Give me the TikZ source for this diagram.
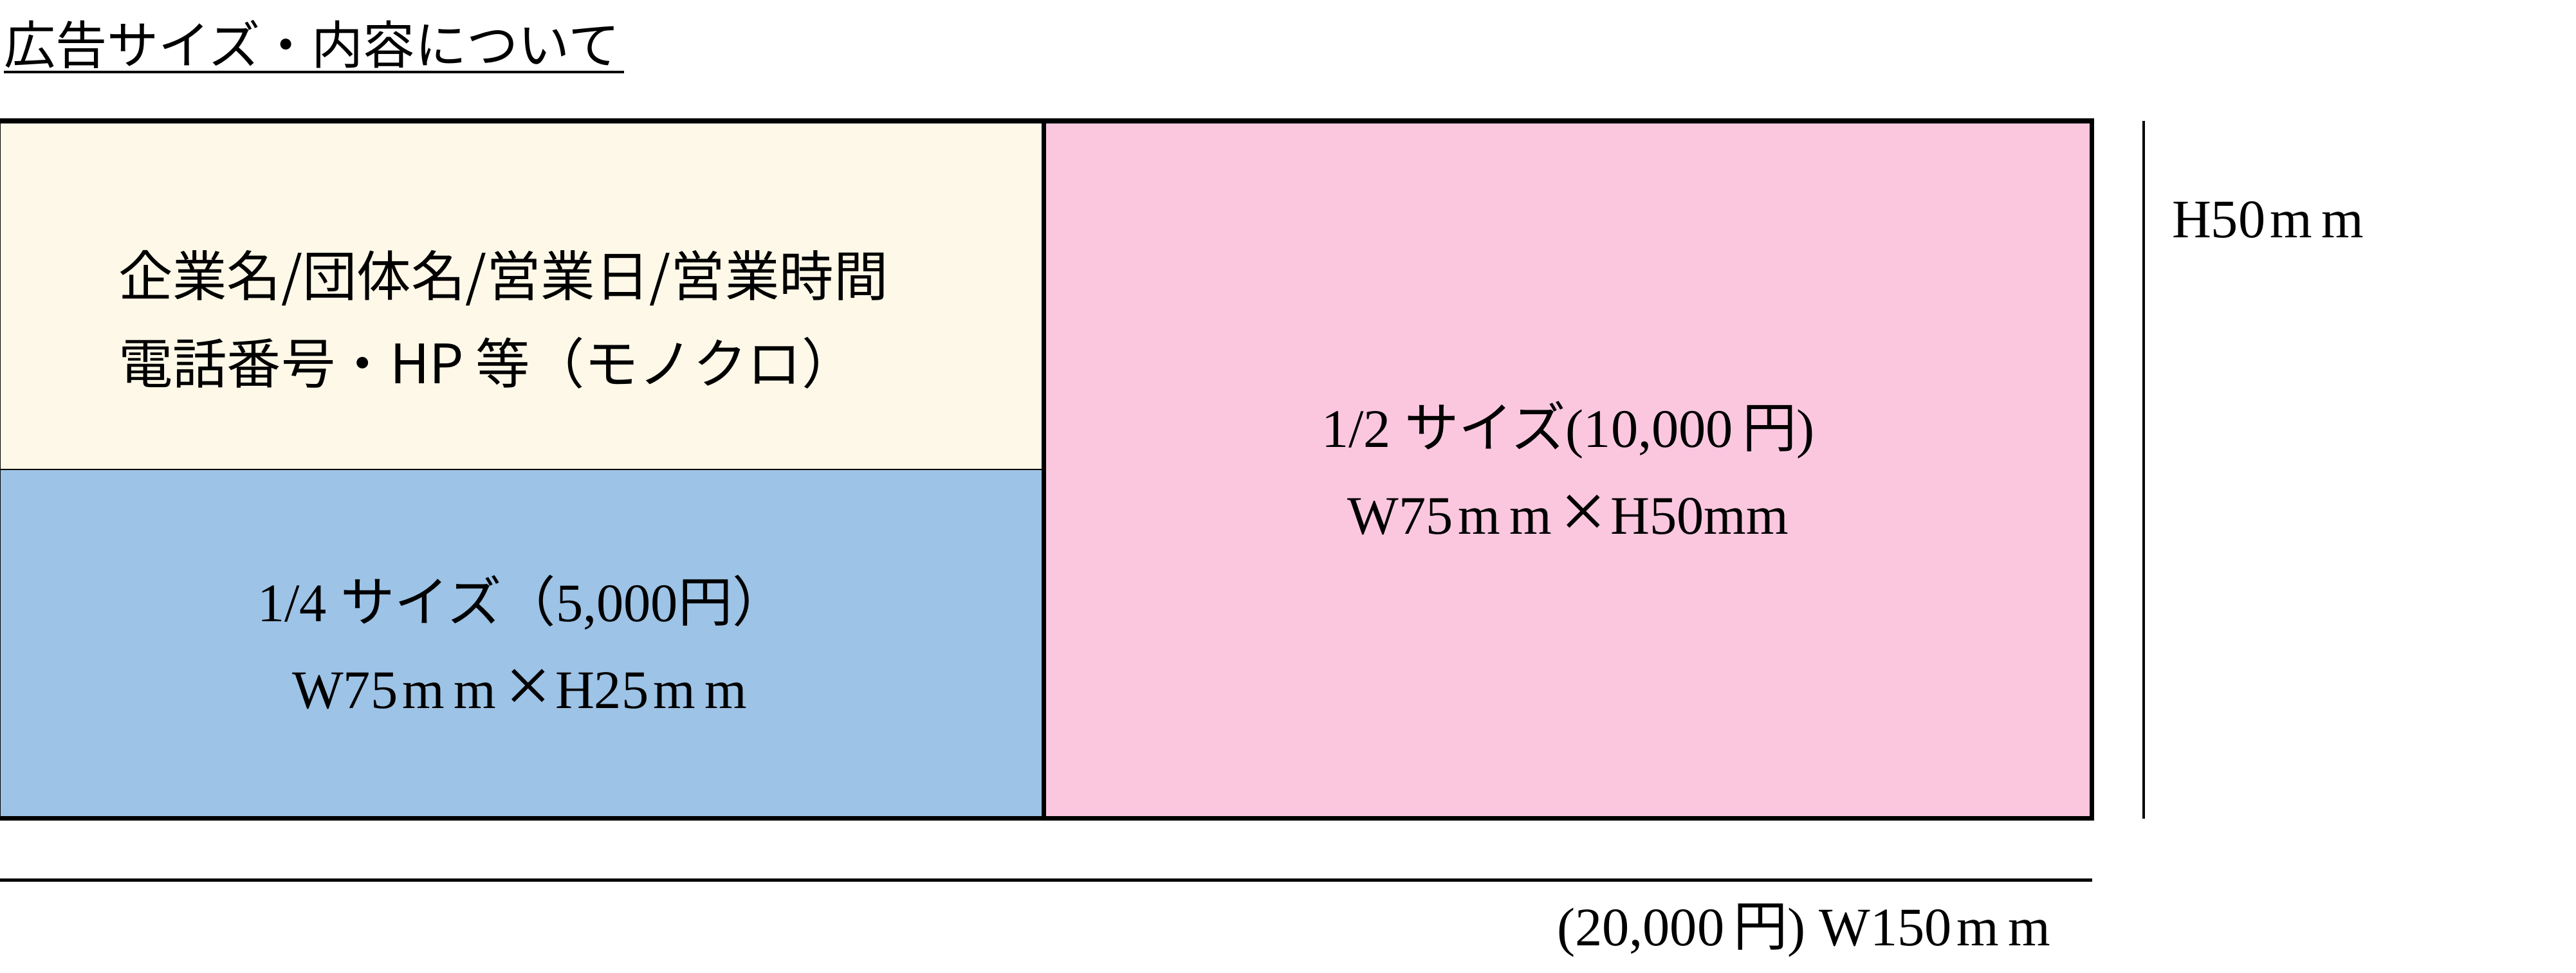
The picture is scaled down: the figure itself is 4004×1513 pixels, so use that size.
\documentclass[tikz,border=0pt]{standalone}
\usepackage{fontspec}
\setmainfont{Liberation Serif}
\newfontfamily\jpgothic{Noto Sans CJK JP}
\usepackage{graphicx}
\usepackage{tikz}
\usetikzlibrary{positioning}
\usepackage{xcolor}
\definecolor{creamfill}{HTML}{FEF8E8}
\definecolor{bluefill}{HTML}{9DC3E6}
\definecolor{pinkfill}{HTML}{FBC7DF}
\newcommand{\jp}[1]{{\jpgothic #1}}
\newcommand{\zm}{\makebox[0.95em]{m}}
\newcommand{\zx}{\makebox[1em]{\raisebox{-0.08em}{\scalebox{1.5}{×}}}}

\begin{document}
\begin{tikzpicture}[
    x=0.01cm, y=-0.01cm,
    every node/.style={inner sep=0pt, outer sep=0pt},
    halfbox/.style={draw, line width=0.6pt, minimum width=16.22cm, minimum height=5.42cm},
    serif text/.style={font=\fontsize{24}{38.4}\selectfont, align=center},
    sans text/.style={font=\jpgothic\fontsize{24}{38.4}\selectfont, align=left},
    dim line/.style={line width=1.4pt}
]
\useasboundingbox (0,0) rectangle (4004,1513);

\node[font=\jpgothic\fontsize{22.8}{26}\selectfont, anchor=base west] (title) at (6,100) {広告サイズ・内容について};
\coordinate (ul-l) at (6,112);
\coordinate (ul-r) at (970,112);
\draw[line width=1.2pt] (ul-l) -- (ul-r);

% ad boxes
\node[halfbox, fill=creamfill, anchor=north west] (info) at (0,188) {};
\node[halfbox, fill=bluefill, below=0pt of info, serif text] (quarter)
    {1/4 \jp{サイズ（}5,000\jp{円）}\\W75\zm\zm\zx H25\zm\zm};
\node[draw, line width=2pt, fill=pinkfill, minimum width=16.28cm, minimum height=10.84cm,
      anchor=north west, serif text] (half) at (info.north east)
    {1/2 \jp{サイズ}(10,000\,\jp{円})\\W75\zm\zm\zx H50mm};
\draw[line width=2pt] (info.north west) -- (info.north east);
\draw[line width=2pt] (quarter.south west) -- (quarter.south east);

\node[sans text, anchor=west] (infotext) at (184,497)
    {企業名/団体名/営業日/営業時間\\電話番号・HP 等（モノクロ）};

% dimensions
\coordinate[right=0.8cm of half.north east] (hdim-top);
\coordinate[right=0.8cm of half.south east] (hdim-bot);
\coordinate[below=0.96cm of quarter.south west] (wdim-l);
\coordinate[below=0.96cm of half.south east] (wdim-r);
\draw[dim line] (hdim-top) -- (hdim-bot);
\draw[dim line] (wdim-l) -- (wdim-r);

\node[serif text, anchor=base west] (hlabel) at (3376,370) {H50\zm\zm};
\node[serif text, anchor=base west] (wlabel) at (2420,1470) {(20,000\,\jp{円}) W150\zm\zm};
\end{tikzpicture}
\end{document}
